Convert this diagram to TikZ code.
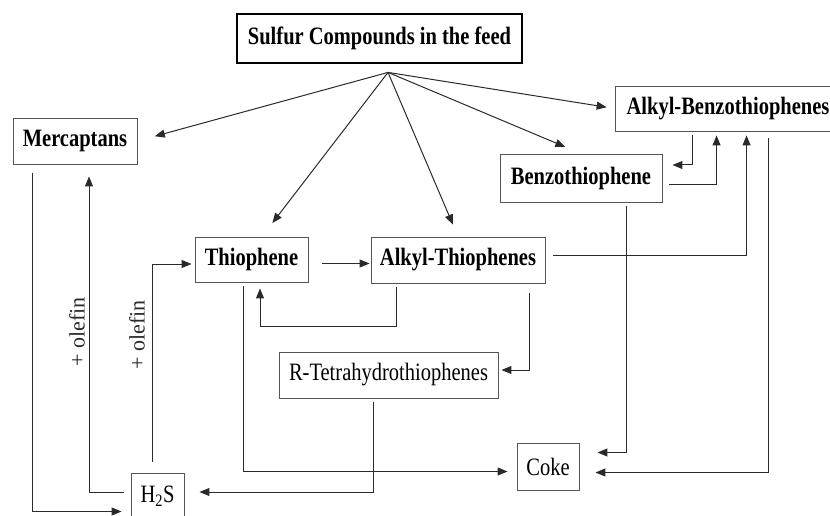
\documentclass[tikz,border=0pt]{standalone}
\usepackage{fontspec}
\setmainfont{Liberation Serif}[FakeStretch=0.82]
\newfontfamily\olfont{Liberation Serif}
\usetikzlibrary{positioning,arrows.meta,calc}
\definecolor{cLine}{HTML}{2A2A2A}
\definecolor{cFrame}{HTML}{555555}

\begin{document}
\begin{tikzpicture}[x=1pt,y=-1pt,
      box/.style={draw=cFrame,line width=0.9pt,inner sep=0pt,minimum height=46pt,
                  font=\fontsize{25}{27}\selectfont\bfseries},
      thinbox/.style={box,font=\fontsize{25}{27}\selectfont},
      olefin/.style={rotate=90,inner sep=0pt,text=cLine,font=\olfont\fontsize{22}{24}\selectfont},
      arr/.style={-{Triangle[length=10pt,width=8pt]},cLine,line width=1pt}]
    \useasboundingbox (0,0) rectangle (830,516);
    % boxes
    \node[box,draw=black,line width=2.8pt,minimum width=285pt,minimum height=49pt] (sulfur) at (379.5,38.5)
      {Sulfur Compounds in the feed};
    \node[box,minimum width=124pt] (merc) at (75,141) {Mercaptans};
    \node[box,minimum width=226pt,minimum height=45pt] (abt) at (728,108.5) {Alkyl-Benzothiophenes};
    \node[box,minimum width=162pt,minimum height=48pt] (bt) at (581,178) {Benzothiophene};
    \node[box,minimum width=113pt,minimum height=45pt] (thio) at (251.5,259.5) {Thiophene};
    \node[box,minimum width=174pt] (at) at (458,260) {Alkyl-Thiophenes};
    \node[thinbox,minimum width=219pt] (rt) at (388.5,375) {R-Tetrahydrothiophenes};
    \node[thinbox,minimum width=62pt,minimum height=47pt] (coke) at (548,466.5) {Coke};
    \node[thinbox,minimum width=53pt,minimum height=47pt] (h2s) at (157.5,496.5) {H\textsubscript{2}S};
    \coordinate (fan) at ($(sulfur.south)+(8.5,8)$);
    % feed arrows
    \draw[arr,shorten >=18pt] (fan) -- (merc.east);
    \draw[arr,shorten >=17pt] (fan) -- ($(thio.north)+(10.5,0)$);
    \draw[arr,shorten >=13pt] (fan) -- (at.north);
    \draw[arr,shorten >=17pt] (fan) -- (bt.north);
    \draw[arr,shorten >=8pt] (fan) -- (abt.west);
    % benzothiophenes
    \draw[arr] ($(abt.south west)+(78,4)$) |- ($(bt.east)+(10,-13)$);
    \draw[arr] ($(bt.east)+(7,6)$) -| ($(abt.south west)+(102,4)$);
    \draw[arr] ($(at.east)+(8,-5)$) -| ($(abt.south west)+(132,4)$);
    \draw[arr] ($(abt.south west)+(154,7)$) |- ($(coke.east)+(16,6)$);
    \draw[arr] ($(bt.south)+(45,4)$) |- ($(coke.east)+(18,-14)$);
    % thiophenes
    \draw[arr] ($(thio.south)+(-8.5,4)$) |- ($(coke.west)+(-9,5)$);
    \draw[arr] ($(thio.east)+(14,4)$) -- ($(at.west)+(-1,3.5)$);
    \draw[arr] ($(at.south west)+(26,4)$) -- ++(0,39) -| ($(thio.south)+(8.5,6)$);
    \draw[arr] ($(at.south east)+(-16,10)$) |- ($(rt.east)+(3,-5)$);
    % H2S
    \draw[arr] ($(rt.south west)+(95,4)$) |- ($(h2s.east)+(15,-4.5)$);
    \draw[arr] ($(h2s.north)+(-5.5,-11)$) |- ($(thio.west)+(-3,4.5)$);
    \draw[arr] ($(h2s.west)+(-7,-4.5)$) -| ($(merc.south)+(14,12)$);
    \draw[arr] ($(merc.south west)+(20,9)$) |- ($(h2s.west)+(-9,15)$);
    \node[olefin] (ol1) at (77,332) {+ olefin};
    \node[olefin] (ol2) at (137,335) {+ olefin};
\end{tikzpicture}
\end{document}
